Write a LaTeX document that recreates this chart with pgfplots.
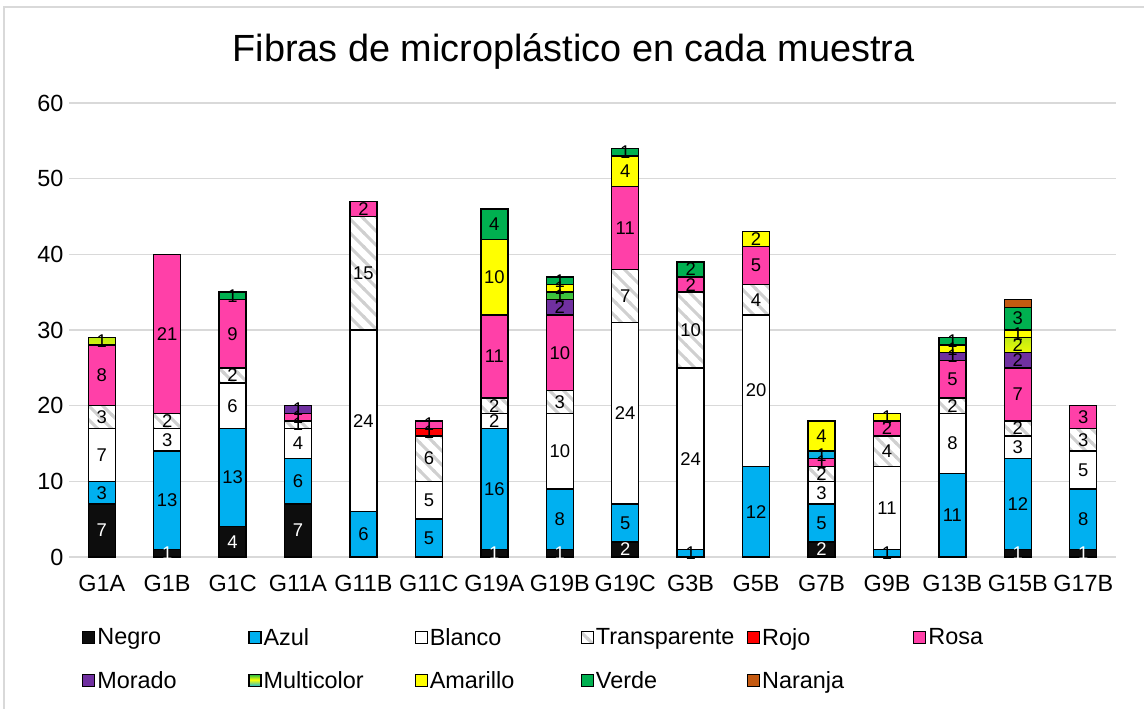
\documentclass[border=0pt]{standalone}
\usepackage{fontspec}
\setmainfont{Liberation Sans}
\usepackage{pgfplots}
\pgfplotsset{compat=1.18}
\usepackage{pgfplotstable}
\usetikzlibrary{patterns}
\definecolor{negro}{HTML}{0D0D0D}
\definecolor{azul}{HTML}{00B0F0}
\definecolor{rojo}{HTML}{FF0000}
\definecolor{rosa}{HTML}{FF40A8}
\definecolor{morado}{HTML}{7030A0}
\definecolor{amarillo}{HTML}{FFFF00}
\definecolor{verde}{HTML}{00B050}
\definecolor{naranja}{HTML}{C55A11}
\definecolor{gridc}{HTML}{D9D9D9}
\definecolor{hatchc}{HTML}{D0D0D0}
\pgfdeclareverticalshading{multi}{100bp}{color(0bp)=(morado); color(25bp)=(azul); color(55bp)=(amarillo); color(80bp)=(verde); color(100bp)=(verde)}
\pgfdeclarepatternformonly{myhatch}{\pgfqpoint{-1bp}{-1bp}}{\pgfqpoint{15bp}{15bp}}{\pgfqpoint{14bp}{14bp}}{%
 \pgfsetlinewidth{3bp}%
 \pgfpathmoveto{\pgfqpoint{0bp}{14bp}}\pgfpathlineto{\pgfqpoint{14bp}{0bp}}%
 \pgfpathmoveto{\pgfqpoint{-1bp}{1bp}}\pgfpathlineto{\pgfqpoint{1bp}{-1bp}}%
 \pgfpathmoveto{\pgfqpoint{13bp}{15bp}}\pgfpathlineto{\pgfqpoint{15bp}{13bp}}%
 \pgfusepath{stroke}}
\pgfplotstableread{
x Negro Azul Blanco Transp Rojo Rosa Morado Multi Amarillo Verde Naranja
0 7 3 7 3 0 8 0 1 0 0 0
1 1 13 3 2 0 21 0 0 0 0 0
2 4 13 6 2 0 9 0 0 0 1 0
3 7 6 4 1 0 1 1 0 0 0 0
4 0 6 24 15 0 2 0 0 0 0 0
5 0 5 5 6 1 1 0 0 0 0 0
6 1 16 2 2 0 11 0 0 10 4 0
7 1 8 10 3 0 10 2 1 1 1 0
8 2 5 24 7 0 11 0 0 4 1 0
9 0 1 24 10 0 2 0 0 0 2 0
10 0 12 20 4 0 5 0 0 2 0 0
11 2 5 3 2 0 1 0 1 4 0 0
12 0 1 11 4 0 2 0 0 1 0 0
13 0 11 8 2 0 5 1 0 1 1 0
14 1 12 3 2 0 7 2 2 1 3 1
15 1 8 5 3 0 3 0 0 0 0 0
}\datatable
\newcommand\tfont{\fontsize{23.5}{28}\selectfont}
\begin{document}
\begin{tikzpicture}
\path[use as bounding box] (-69bp,-152bp) rectangle (1075bp,557bp);
\draw[gridc, line width=1.5bp] (-65bp,-160bp) -- (-65bp,550bp) -- (1080bp,550bp);
\begin{axis}[
  scale only axis, width=1047bp, height=454bp,
  ybar stacked, bar width=27bp,
  ymin=0, ymax=60, ytick={0,10,...,60},
  xmin=-0.5, xmax=15.5,
  xtick={0,...,15},
  xticklabels={G1A,G1B,G1C,G11A,G11B,G11C,G19A,G19B,G19C,G3B,G5B,G7B,G9B,G13B,G15B,G17B},
  axis line style={draw=none},
  major tick length=0pt,
  ymajorgrids, grid style={gridc, line width=1.5bp},
  tick label style={font=\tfont},
  /pgf/number format/assume math mode=true,
  yticklabel style={xshift=-2bp},
  xticklabel style={yshift=-15bp},
  title={Fibras de microplástico en cada muestra},
  title style={font=\fontsize{38}{44}\selectfont, at={(0.5,1)}, anchor=base, xshift=-19bp, yshift=36bp},
  every axis plot/.append style={draw=black, line width=1.4bp},
  point meta=explicit,
  nodes near coords={\pgfmathfloatifflags{\pgfplotspointmeta}{0}{}{\pgfmathprintnumber{\pgfplotspointmeta}}},
  every node near coord/.append style={font=\fontsize{18.5}{20}\selectfont, text=black},
  legend columns=6,
  legend style={draw=none, fill=none, at={(rel axis cs:0,0)}, anchor=north west, xshift=10bp, yshift=-67bp,
    font=\tfont, nodes={text width=149bp, align=left, inner sep=2bp}, row sep=21bp},
  legend image code/.code={\draw[#1, line width=1.2bp, draw=black] (0bp,-6bp) rectangle (12bp,6bp);},
]
\addplot[fill=negro, every node near coord/.append style={text=white}] table[x=x,y=Negro,meta=Negro]{\datatable};
\addplot[fill=azul] table[x=x,y=Azul,meta=Azul]{\datatable};
\addplot[fill=white] table[x=x,y=Blanco,meta=Blanco]{\datatable};
\addplot[fill=white, postaction={pattern=myhatch, pattern color=hatchc}] table[x=x,y=Transp,meta=Transp]{\datatable};
\addplot[fill=rojo] table[x=x,y=Rojo,meta=Rojo]{\datatable};
\addplot[fill=rosa] table[x=x,y=Rosa,meta=Rosa]{\datatable};
\addplot[fill=morado] table[x=x,y=Morado,meta=Morado]{\datatable};
\addplot[shading=multi] table[x=x,y=Multi,meta=Multi]{\datatable};
\addplot[fill=amarillo] table[x=x,y=Amarillo,meta=Amarillo]{\datatable};
\addplot[fill=verde] table[x=x,y=Verde,meta=Verde]{\datatable};
\addplot[fill=naranja, nodes near coords={}] table[x=x,y=Naranja,meta=Naranja]{\datatable};
\legend{Negro,Azul,Blanco,Transparente,Rojo,Rosa,Morado,Multicolor,Amarillo,Verde,Naranja}
\end{axis}
\end{tikzpicture}
\end{document}
